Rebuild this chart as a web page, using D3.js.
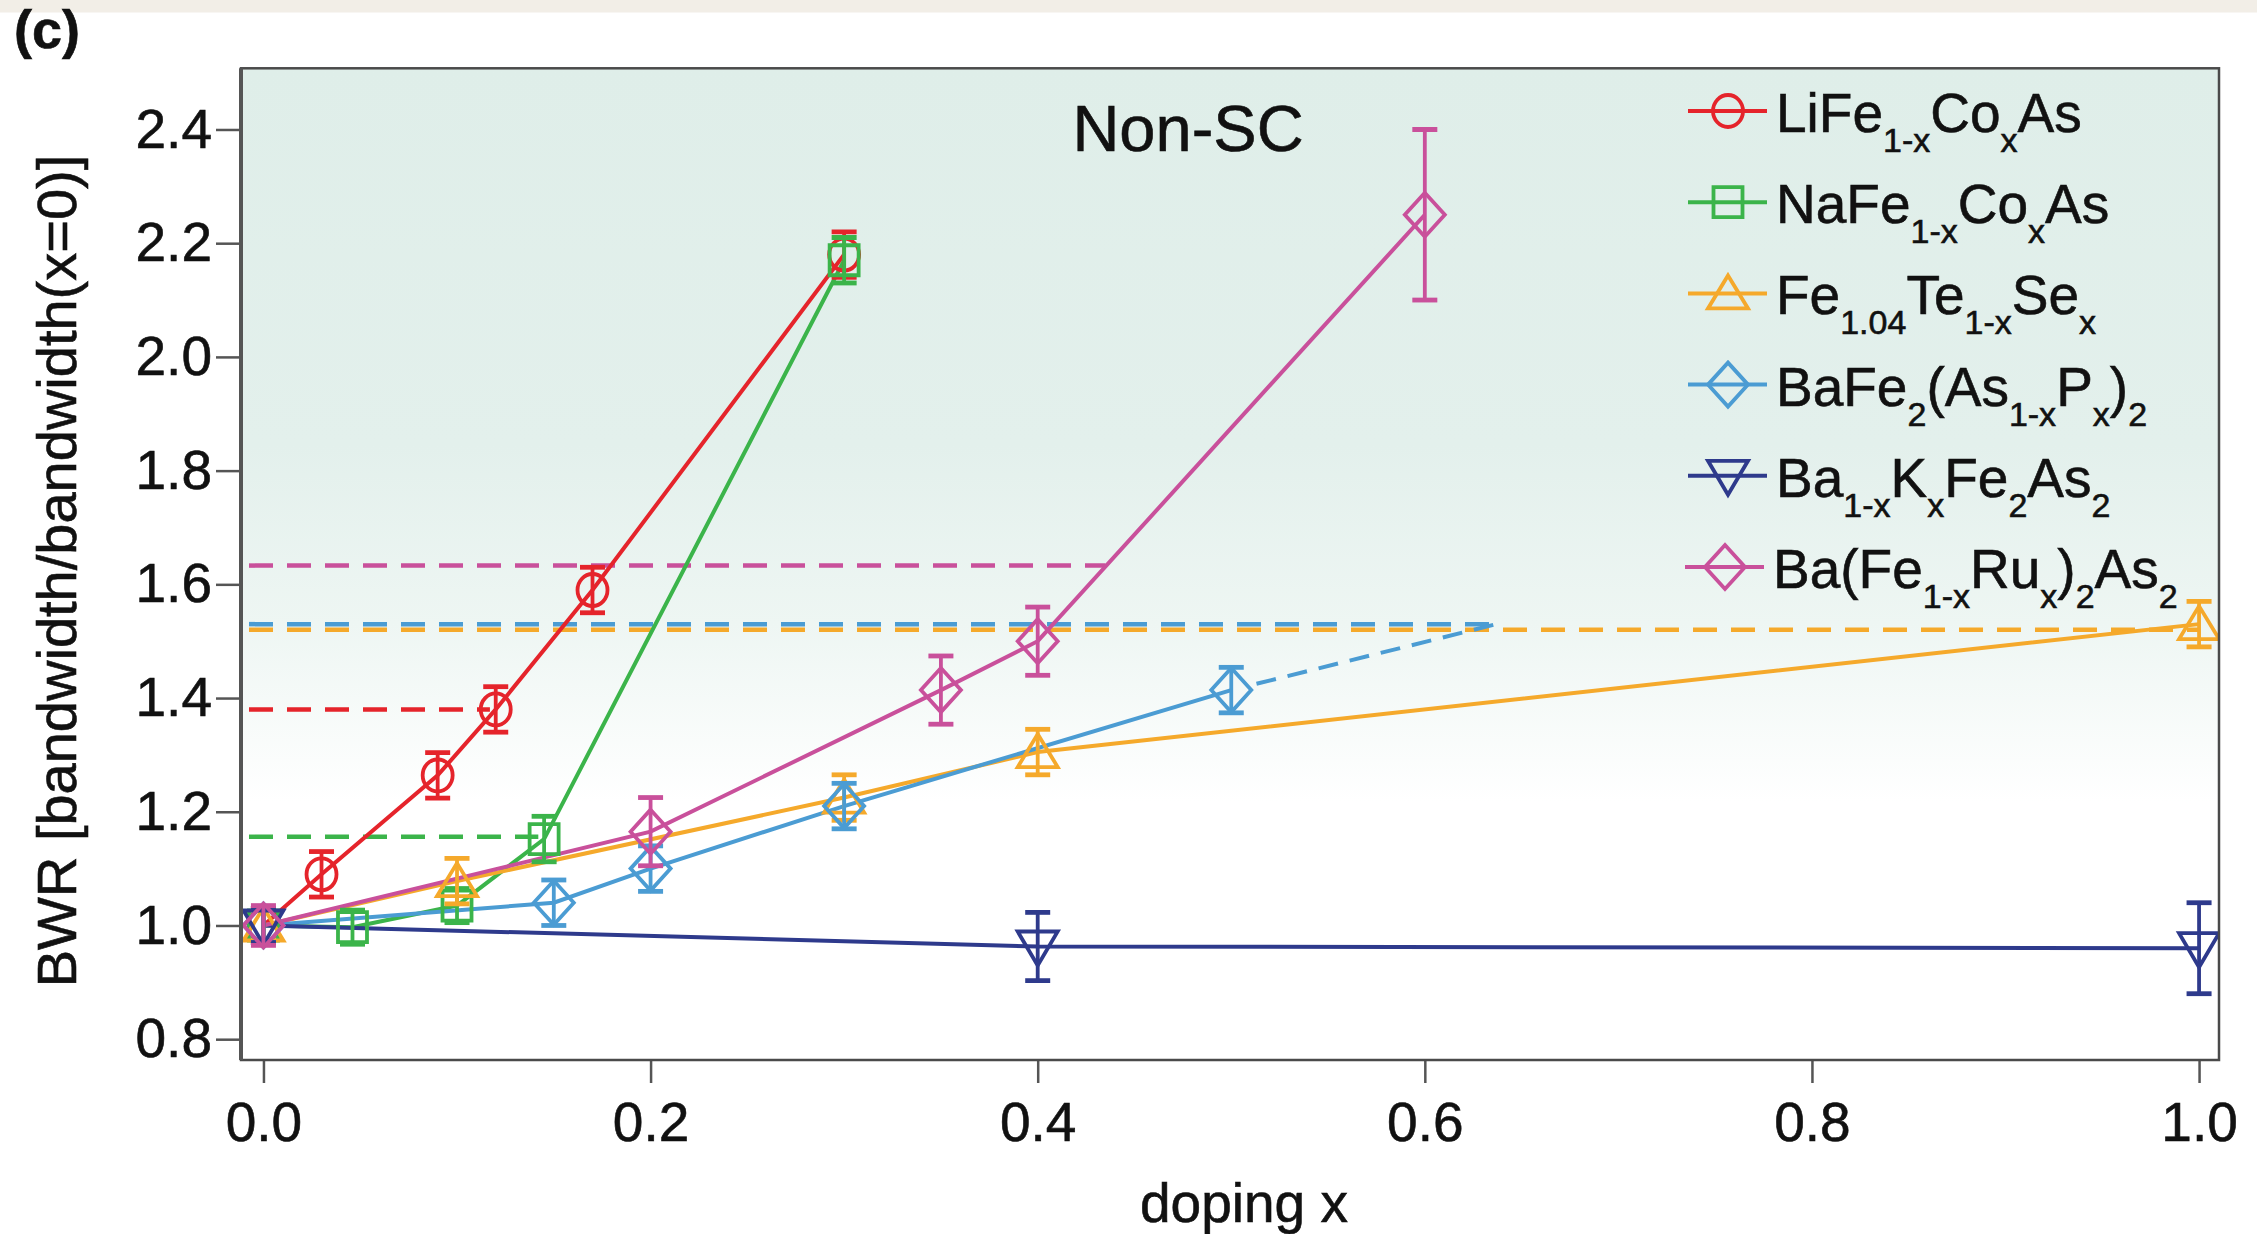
<!DOCTYPE html>
<html>
<head>
<meta charset="utf-8">
<script src="https://cdn.jsdelivr.net/npm/d3@7"></script>
<style>
  html, body { margin: 0; padding: 0; background: #ffffff; }
  svg { display: block; }
  text { font-family: "Liberation Sans", Arial, Helvetica, sans-serif; fill: #111; stroke: #111; stroke-width: 0.6px; }
</style>
</head>
<body>
<script>
// ---------------- data ----------------
const xTicks = [0.0, 0.2, 0.4, 0.6, 0.8, 1.0];
const yTicks = [0.8, 1.0, 1.2, 1.4, 1.6, 1.8, 2.0, 2.2, 2.4];

const seriesNames = ["LiFeCoAs", "NaFeCoAs", "FeTeSe", "BaFeAsP", "BaKFeAs", "BaFeRuAs"];

const dopingLi = [0.00, 0.03, 0.09, 0.12, 0.17, 0.30];
const bwrLi    = [1.00, 1.09, 1.264, 1.38, 1.59, 2.18];
const errLi    = [0.03, 0.04, 0.04, 0.04, 0.04, 0.04];

const dopingNa = [0.00, 0.046, 0.10, 0.145, 0.30];
const bwrNa    = [1.00, 0.997, 1.035, 1.152, 2.17];
const errNa    = [0.03, 0.03, 0.03, 0.04, 0.04];

const dopingSe = [0.00, 0.10, 0.30, 0.40, 1.00];
const bwrSe    = [1.00, 1.078, 1.225, 1.305, 1.53];
const errSe    = [0.03, 0.04, 0.04, 0.04, 0.04];

const dopingP  = [0.00, 0.15, 0.20, 0.30, 0.50];
const bwrP     = [1.00, 1.04, 1.10, 1.21, 1.414];
const errP     = [0.03, 0.04, 0.04, 0.04, 0.04];

const dopingK  = [0.00, 0.40, 1.00];
const bwrK     = [1.00, 0.963, 0.96];
const errK     = [0.03, 0.06, 0.08];

const dopingRu = [0.00, 0.20, 0.35, 0.40, 0.60];
const bwrRu    = [1.00, 1.165, 1.414, 1.50, 2.25];
const errRu    = [0.035, 0.06, 0.06, 0.06, 0.15];

// critical BWR (dashed horizontal lines): value and doping where it ends
const criticalBWR = [1.38, 1.156, 1.52, 1.53, null, 1.633];
const criticalEnd = [0.117, 0.142, 1.00, 0.637, null, 0.435];
// dashed extrapolation of BaFe2(As1-xPx)2
const extrapX = [0.50, 0.637];
const extrapY = [1.414, 1.53];

// legend labels: [text, isSubscript]
const legendLabels = [
  [["LiFe",0],["1-x",1],["Co",0],["x",1],["As",0]],
  [["NaFe",0],["1-x",1],["Co",0],["x",1],["As",0]],
  [["Fe",0],["1.04",1],["Te",0],["1-x",1],["Se",0],["x",1]],
  [["BaFe",0],["2",1],["(As",0],["1-x",1],["P",0],["x",1],[")",0],["2",1]],
  [["Ba",0],["1-x",1],["K",0],["x",1],["Fe",0],["2",1],["As",0],["2",1]],
  [["Ba(Fe",0],["1-x",1],["Ru",0],["x",1],[")",0],["2",1],["As",0],["2",1]]
];

const annotation = "Non-SC";
const panelLabel = "(c)";
const xLabel = "doping x";
const yLabel = "BWR [bandwidth/bandwidth(x=0)]";

// ---------------- styles ----------------
const colors  = ["#e5242b", "#3bb44a", "#f5a92b", "#4b9cd3", "#2e3a8c", "#c9509b"];
const shapes  = ["circle", "square", "triUp", "diamond", "triDown", "diamond"];

const W = 2257, H = 1234;
const pLeft = 241, pRight = 2219, pTop = 68.3, pBottom = 1060;

const x = d3.scaleLinear().domain([-0.0116, 1.0103]).range([pLeft, pRight]);
const y = d3.scaleLinear().domain([0.7634, 2.5076]).range([pBottom, pTop]);

const svg = d3.select("body").append("svg").attr("width", W).attr("height", H);

// top strip (screenshot background)
svg.append("rect").attr("x", 0).attr("y", 0).attr("width", W).attr("height", 12.5).attr("fill", "#f2eee7");

// background gradient
const defs = svg.append("defs");
const grad = defs.append("linearGradient").attr("id", "bg").attr("x1", 0).attr("y1", 0).attr("x2", 0).attr("y2", 1);
grad.append("stop").attr("offset", "0%").attr("stop-color", "#dfeee9");
grad.append("stop").attr("offset", "38%").attr("stop-color", "#e3f0ec");
grad.append("stop").attr("offset", "56%").attr("stop-color", "#eef6f3");
grad.append("stop").attr("offset", "74%").attr("stop-color", "#ffffff");
grad.append("stop").attr("offset", "100%").attr("stop-color", "#ffffff");
svg.append("rect").attr("x", pLeft).attr("y", pTop).attr("width", pRight - pLeft).attr("height", pBottom - pTop).attr("fill", "url(#bg)");

// clip
defs.append("clipPath").attr("id", "clip").append("rect")
  .attr("x", pLeft).attr("y", pTop).attr("width", pRight - pLeft).attr("height", pBottom - pTop);

// axes
const yAxis = d3.axisLeft(y).tickValues(yTicks).tickSize(25).tickPadding(4).tickFormat(d3.format(".1f"));
const gy = svg.append("g").attr("transform", `translate(${pLeft},0)`).call(yAxis);
gy.select(".domain").remove();
gy.selectAll("line").attr("stroke", "#555").attr("stroke-width", 2.5);
gy.selectAll("text").attr("font-size", 55).attr("fill", "#111").attr("stroke", "#111").attr("stroke-width", 0.6)
  .style("font-family", "'Liberation Sans', Arial, sans-serif");

const xAxis = d3.axisBottom(x).tickValues(xTicks).tickSize(23).tickPadding(19).tickFormat(d3.format(".1f"));
const gx = svg.append("g").attr("transform", `translate(0,${pBottom})`).call(xAxis);
gx.select(".domain").remove();
gx.selectAll("line").attr("stroke", "#555").attr("stroke-width", 2.5);
gx.selectAll("text").attr("font-size", 55).attr("fill", "#111").attr("stroke", "#111").attr("stroke-width", 0.6)
  .style("font-family", "'Liberation Sans', Arial, sans-serif");

// axis labels
svg.append("text").attr("x", 1244).attr("y", 1222).attr("text-anchor", "middle")
  .attr("font-size", 55).text(xLabel);
svg.append("text").attr("transform", "translate(76,571) rotate(-90)").attr("text-anchor", "middle")
  .attr("font-size", 56).text(yLabel);

// panel label
svg.append("text").attr("x", 14).attr("y", 48).attr("font-size", 54).attr("font-weight", "bold").text(panelLabel);

const plot = svg.append("g").attr("clip-path", "url(#clip)");

// critical dashed horizontal lines
criticalBWR.forEach((v, i) => {
  if (v === null) return;
  plot.append("line")
    .attr("x1", pLeft).attr("x2", x(criticalEnd[i]))
    .attr("y1", y(v)).attr("y2", y(v))
    .attr("stroke", colors[i]).attr("stroke-width", 4.5)
    .attr("stroke-dasharray", "24,14").attr("stroke-dashoffset", -8);
});

// extrapolated dashed line for BaFe2(As1-xPx)2
{
  const x0 = x(extrapX[0]), y0 = y(extrapY[0]), x1 = x(extrapX[1]), y1 = y(extrapY[1]);
  const len = Math.hypot(x1 - x0, y1 - y0), off = 26;
  plot.append("line")
    .attr("x1", x0 + (x1 - x0) * off / len).attr("y1", y0 + (y1 - y0) * off / len)
    .attr("x2", x1).attr("y2", y1)
    .attr("stroke", colors[3]).attr("stroke-width", 4).attr("stroke-dasharray", "20,12");
}

// annotation
svg.append("text").attr("x", 1188).attr("y", 151).attr("text-anchor", "middle").attr("font-size", 65).text(annotation);

// series
const allX = [dopingLi, dopingNa, dopingSe, dopingP, dopingK, dopingRu];
const allY = [bwrLi, bwrNa, bwrSe, bwrP, bwrK, bwrRu];
const allE = [errLi, errNa, errSe, errP, errK, errRu];

function shapePath(s) {
  switch (s) {
    case "circle":  return "M-15,0 A15,16 0 1,0 15,0 A15,16 0 1,0 -15,0 Z";
    case "square":  return "M-14.5,-15 L14.5,-15 L14.5,15 L-14.5,15 Z";
    case "triUp":   return "M0,-18 L20,15 L-20,15 Z";
    case "triDown": return "M-20,-15 L20,-15 L0,19 Z";
    case "diamond": return "M0,-22 L20,0 L0,22 L-20,0 Z";
  }
}

const line = d3.line().x(d => x(d[0])).y(d => y(d[1]));

// lines first
allX.forEach((xs, i) => {
  const pts = xs.map((v, j) => [v, allY[i][j]]);
  plot.append("path").datum(pts).attr("d", line)
    .attr("fill", "none").attr("stroke", colors[i]).attr("stroke-width", 4);
});

// error bars and markers
allX.forEach((xs, i) => {
  const g = plot.append("g").attr("stroke", colors[i]).attr("fill", "none");
  xs.forEach((v, j) => {
    const cx = x(v), yv = allY[i][j], e = allE[i][j];
    g.append("line").attr("x1", cx).attr("x2", cx).attr("y1", y(yv - e)).attr("y2", y(yv + e)).attr("stroke-width", 3.8);
    g.append("line").attr("x1", cx - 12.5).attr("x2", cx + 12.5).attr("y1", y(yv + e)).attr("y2", y(yv + e)).attr("stroke-width", 4.8);
    g.append("line").attr("x1", cx - 12.5).attr("x2", cx + 12.5).attr("y1", y(yv - e)).attr("y2", y(yv - e)).attr("stroke-width", 4.8);
    g.append("path").attr("d", shapePath(shapes[i])).attr("transform", `translate(${cx},${y(yv)})`)
      .attr("stroke-width", 3.8).attr("stroke-linejoin", "miter");
  });
});

// frame
svg.append("rect").attr("x", pLeft).attr("y", pTop).attr("width", pRight - pLeft).attr("height", pBottom - pTop)
  .attr("fill", "none").attr("stroke", "#4a4a4a").attr("stroke-width", 2.5);
svg.append("line").attr("x1", pLeft).attr("x2", pLeft).attr("y1", pTop).attr("y2", pBottom)
  .attr("stroke", "#555").attr("stroke-width", 4);

// legend
const legRow0 = 111, legStep = 91.2;
legendLabels.forEach((parts, i) => {
  const ry = legRow0 + i * legStep;
  const dx = i === 5 ? -3 : 0;
  const g = svg.append("g").attr("transform", `translate(${dx},${ry})`);
  g.append("line").attr("x1", 1688).attr("x2", 1767).attr("y1", 0).attr("y2", 0)
    .attr("stroke", colors[i]).attr("stroke-width", 4);
  g.append("path").attr("d", shapePath(shapes[i])).attr("transform", "translate(1728,0)")
    .attr("fill", "none").attr("stroke", colors[i]).attr("stroke-width", 3.8);
  const t = g.append("text").attr("x", 1776).attr("y", 21).attr("font-size", 55);
  let sub = false;
  parts.forEach(([s, isSub]) => {
    const ts = t.append("tspan").text(s);
    if (isSub && !sub) { ts.attr("dy", 20).attr("font-size", 34); sub = true; }
    else if (isSub && sub) { ts.attr("font-size", 34); }
    else if (!isSub && sub) { ts.attr("dy", -20); sub = false; }
  });
});
</script>
</body>
</html>
